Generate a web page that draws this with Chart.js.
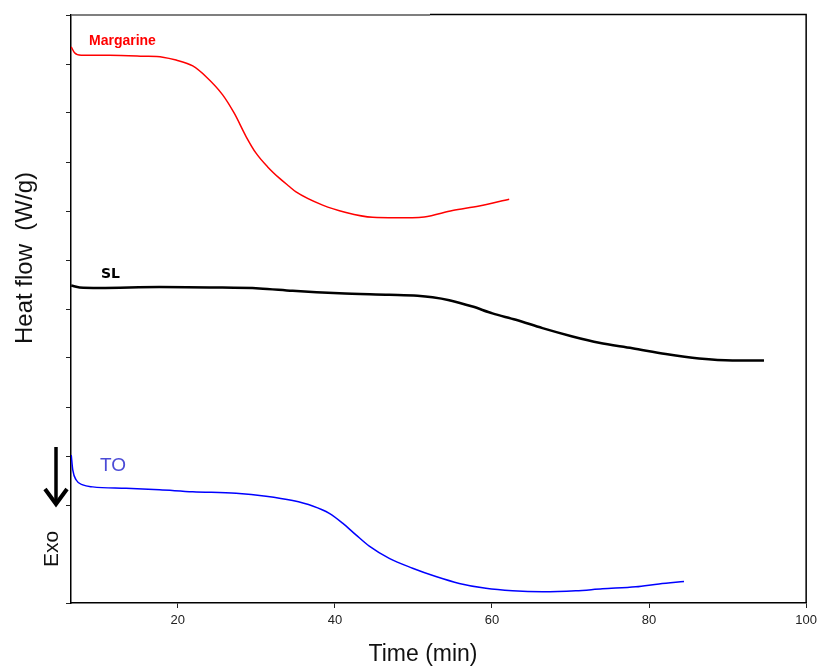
<!DOCTYPE html>
<html>
<head>
<meta charset="utf-8">
<script src="https://cdn.jsdelivr.net/npm/chart.js@4"></script>
<style>
  body { margin: 0; background: #fff; }
  #wrap { width: 822px; height: 667px; }
</style>
</head>
<body>
<div id="wrap"><canvas id="chart_one" width="822" height="667"></canvas></div>
<script>
// time (min) / heat flow (arbitrary units)
const margarineTime = [6.43, 6.85, 7.7, 11.3, 15.53, 18.08, 19.78, 21.9, 23.6, 25.71, 27.2, 28.69, 29.96, 31.44, 32.93, 34.2, 35.05, 38.44, 41.41, 44.8, 47.77, 51.37, 54.98, 58.37, 62.19];
const margarineHeat = [11.35, 11.23, 11.18, 11.18, 11.16, 11.14, 11.08, 10.96, 10.74, 10.37, 9.99, 9.52, 9.18, 8.9, 8.67, 8.5, 8.39, 8.12, 7.97, 7.87, 7.86, 7.88, 8.01, 8.1, 8.24];

const slTime = [6.43, 7.5, 10.03, 17.66, 24.02, 30.38, 34.62, 40.56, 46.92, 50.52, 52.43, 54.56, 57.52, 60.06, 63.04, 66.43, 70.24, 73.64, 77.88, 82.13, 86.36, 90.6, 94.63];
const slHeat = [6.48, 6.44, 6.43, 6.45, 6.44, 6.42, 6.37, 6.32, 6.29, 6.27, 6.24, 6.18, 6.05, 5.91, 5.78, 5.61, 5.44, 5.31, 5.2, 5.08, 4.99, 4.95, 4.95];

const toTime = [6.43, 6.63, 7.06, 7.9, 9.17, 13.42, 17.66, 21.9, 27.42, 31.23, 34.62, 37.16, 39.29, 40.98, 42.68, 44.38, 46.92, 49.89, 52.86, 55.83, 59.22, 62.61, 66.43, 70.67, 74.06, 78.31, 81.27, 84.45];
const toHeat = [3.02, 2.71, 2.51, 2.41, 2.37, 2.34, 2.31, 2.27, 2.24, 2.18, 2.09, 1.98, 1.83, 1.63, 1.39, 1.16, 0.91, 0.71, 0.54, 0.4, 0.3, 0.25, 0.23, 0.25, 0.29, 0.33, 0.39, 0.44];

const xTicks = [20, 40, 60, 80, 100];
const yTicks = [0, 2, 3, 4, 5, 6, 7, 8, 9, 10, 11, 12];

function pts(xs, ys) {
  return xs.map((x, i) => ({ x: x, y: ys[i] }));
}

const textPlugin = {
  id: 'texts',
  afterDraw(chart) {
    const ctx = chart.ctx;
    const a = chart.chartArea;
    ctx.save();
    // top + right frame (left half of the top edge is grey in the original)
    ctx.lineWidth = 1.5;
    ctx.strokeStyle = '#555';
    ctx.beginPath();
    ctx.moveTo(a.left, a.top);
    ctx.lineTo(430, a.top);
    ctx.stroke();
    ctx.strokeStyle = '#000';
    ctx.beginPath();
    ctx.moveTo(430, a.top - 0.5);
    ctx.lineTo(a.right, a.top - 0.5);
    ctx.lineTo(a.right, a.bottom);
    ctx.stroke();

    // curve labels
    ctx.textBaseline = 'middle';
    ctx.textAlign = 'left';
    ctx.font = 'bold 14px "Liberation Sans", Arial, sans-serif';
    ctx.fillStyle = '#ff0000';
    ctx.fillText('Margarine', 89, 41);
    ctx.font = 'bold 14px "DejaVu Sans", sans-serif';
    ctx.fillStyle = '#000';
    ctx.fillText('SL', 101, 274);
    ctx.font = '19px "Liberation Sans", Arial, sans-serif';
    ctx.fillStyle = '#4b4bd6';
    ctx.fillText('TO', 100, 466);

    // axis titles
    ctx.fillStyle = '#111';
    ctx.textAlign = 'center';
    ctx.font = '23px "Liberation Sans", Arial, sans-serif';
    ctx.fillText('Time (min)', 423, 655);
    ctx.save();
    ctx.translate(25, 258);
    ctx.rotate(-Math.PI / 2);
    ctx.font = '24px "Liberation Sans", Arial, sans-serif';
    ctx.fillText('Heat flow  (W/g)', 0, 0);
    ctx.restore();
    ctx.save();
    ctx.translate(52, 549);
    ctx.rotate(-Math.PI / 2);
    ctx.font = '21px "Liberation Sans", Arial, sans-serif';
    ctx.fillText('Exo', 0, 0);
    ctx.restore();

    // Exo arrow
    ctx.strokeStyle = '#000';
    ctx.lineWidth = 3.5;
    ctx.beginPath();
    ctx.moveTo(56, 447);
    ctx.lineTo(56, 503);
    ctx.stroke();
    ctx.lineWidth = 4;
    ctx.beginPath();
    ctx.moveTo(45, 489);
    ctx.lineTo(56, 504);
    ctx.lineTo(67, 489);
    ctx.stroke();
    ctx.restore();
  }
};

new Chart(document.getElementById('chart_one'), {
  type: 'scatter',
  data: {
    datasets: [
      {
        label: 'Margarine',
        data: pts(margarineTime, margarineHeat),
        showLine: true,
        borderColor: '#ff0000',
        borderWidth: 1.5,
        pointRadius: 0,
        cubicInterpolationMode: 'monotone'
      },
      {
        label: 'SL',
        data: pts(slTime, slHeat),
        showLine: true,
        borderColor: '#000000',
        borderWidth: 2.5,
        pointRadius: 0,
        cubicInterpolationMode: 'monotone'
      },
      {
        label: 'TO',
        data: pts(toTime, toHeat),
        showLine: true,
        borderColor: '#0000ff',
        borderWidth: 1.5,
        pointRadius: 0,
        cubicInterpolationMode: 'monotone'
      }
    ]
  },
  options: {
    responsive: false,
    animation: false,
    layout: { padding: { top: 15, right: 15, left: 0, bottom: 0 } },
    plugins: {
      legend: { display: false },
      tooltip: { enabled: false }
    },
    scales: {
      x: {
        type: 'linear',
        min: 6.4,
        max: 100,
        afterBuildTicks: s => { s.ticks = xTicks.map(v => ({ value: v })); },
        afterFit: s => { s.height = 64; },
        border: { color: '#000', width: 1.5 },
        grid: { drawOnChartArea: false, tickLength: 5, color: '#222' },
        ticks: {
          padding: 5,
          color: '#222',
          font: { family: '"Liberation Sans", Arial, sans-serif', size: 13 },
          maxRotation: 0
        }
      },
      y: {
        type: 'linear',
        min: 0,
        max: 12,
        afterBuildTicks: s => { s.ticks = yTicks.map(v => ({ value: v })); },
        afterFit: s => { s.width = 71; },
        border: { color: '#000', width: 1.5 },
        grid: { drawOnChartArea: false, tickLength: 5, color: '#222' },
        ticks: { display: false }
      }
    }
  },
  plugins: [textPlugin]
});
</script>
</body>
</html>
